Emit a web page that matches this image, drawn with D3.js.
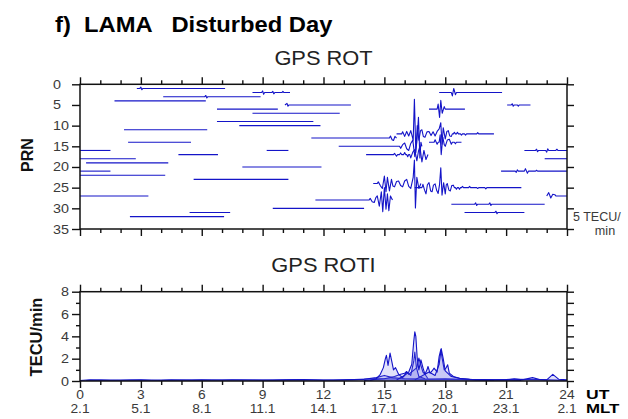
<!DOCTYPE html>
<html><head><meta charset="utf-8">
<script src="https://cdn.jsdelivr.net/npm/d3@7"></script>
<style>html,body{margin:0;padding:0;background:#fff;} svg{display:block;font-family:"Liberation Sans",Arial,sans-serif;}</style>
</head><body><svg id="c" width="628" height="419"></svg>
<script>
// ---------------- data ----------------
const utTicks = [0,3,6,9,12,15,18,21,24];
const utLabels = ["0","3","6","9","12","15","18","21","24"];
const mltLabels = ["2.1","5.1","8.1","11.1","14.1","17.1","20.1","23.1","2.1"];
const minorHours = [1,2,4,5,7,8,10,11,13,14,16,17,19,20,22,23];
const prnTicks = [0,5,10,15,20,25,30,35];
const rotiTicks = [0,2,4,6,8];
const rotiMinor = [1,3,5,7];

// satellite passes in GPS ROT panel
const trackPRN   = [1, 2, 2, 3, 4, 5, 5, 6, 6, 7, 9, 10, 11, 12, 13, 14, 14, 15, 16, 16, 16, 17, 17, 18, 18, 19, 20, 21, 21, 22, 23, 24, 25, 27, 27, 28, 29, 30, 31, 31, 32];
const trackStart = [2.8, 8.5, 17.7, 4.1, 1.7, 10.1, 21.05, 6.75, 17.2, 8.5, 6.75, 7.85, 2.17, 15.6, 11.4, 2.37, 17.2, 12.75, 0, 9.2, 21.9, 4.85, 14.1, 0, 22.9, 0.3, 8.0, 0, 20.75, 0, 5.6, 14.45, 16.5, 0, 23.0, 11.6, 18.3, 9.5, 5.4, 18.95, 2.46];
const trackEnd   = [7.15, 10.35, 20.8, 8.9, 6.2, 13.35, 22.2, 9.75, 18.97, 12.8, 11.5, 11.85, 6.27, 20.4, 15.6, 5.47, 18.8, 16.85, 1.5, 10.27, 24, 6.8, 17.15, 2.75, 24, 4.35, 11.9, 1.5, 24, 4.2, 10.27, 16.8, 21.75, 3.37, 24, 15.4, 22.9, 14.0, 7.4, 21.9, 7.1];

// ROT excursions: [PRN, UT hour, ROT (TECU/min)]
const rotEvents = [
  [1,3.0,0.3],[1,3.05,-0.3],
  [2,9.0,0.4],[2,9.05,-0.4],[2,9.5,0.3],[2,9.55,-0.3],[2,10.0,0.3],
  [2,18.35,-0.8],[2,18.42,1.0],[2,18.5,-0.5],
  [3,6.2,0.3],[3,6.25,-0.3],
  [5,10.2,0.4],[5,10.25,-0.3],[5,21.3,0.3],[5,21.35,-0.3],[5,21.6,-0.3],
  [6,17.65,1.2],[6,17.72,-2.0],[6,17.78,2.1],[6,17.85,-1.0],[6,17.95,0.6],
  [12,15.9,0.5],[12,16.0,-0.6],[12,16.1,0.6],[12,16.2,-0.5],[12,16.3,0.8],[12,16.42,-1.5],[12,16.48,8.4],[12,16.55,-4.5],[12,16.62,2.0],[12,16.7,-1.5],[12,16.78,0.8],[12,16.85,1.0],[12,16.92,-0.6],[12,17.0,-0.8],[12,17.1,0.5],[12,17.2,0.6],[12,17.3,-0.4],[12,17.4,0.5],[12,17.5,-0.5],[12,17.6,0.6],[12,17.7,1.2],[12,17.78,2.7],[12,17.84,-2.5],[12,17.9,1.5],[12,18.0,-1.2],[12,18.08,0.6],[12,18.15,0.8],[12,18.22,-0.5],[12,18.3,-0.6],[12,18.45,0.4],[12,18.6,0.4],[12,18.8,-0.3],[12,19.0,-0.3],[12,19.6,0.3],
  [13,15.3,0.5],[13,15.38,-0.4],[13,15.45,-0.6],[13,15.52,0.4],
  [14,17.5,0.6],[14,17.6,-0.5],[14,17.75,1.8],[14,17.8,-3.0],[14,17.88,1.2],[14,17.95,-0.6],[14,18.0,-1.0],[14,18.1,0.5],[14,18.2,0.7],[14,18.3,-0.5],[14,18.5,-0.4],
  [15,15.8,-0.5],[15,15.9,0.4],[15,16.0,0.8],[15,16.1,-0.6],[15,16.2,-1.0],[15,16.3,0.7],[15,16.4,1.5],[15,16.5,-2.5],[15,16.6,1.0],[15,16.68,7.0],[15,16.75,-2.8],[15,16.8,1.0],
  [16,22.5,0.3],[16,22.55,-0.3],[16,23.0,-0.4],[16,23.05,0.4],[16,23.5,0.3],
  [17,15.5,0.3],[17,15.6,-0.4],[17,15.8,0.4],[17,16.0,0.5],[17,16.15,-0.5],[17,16.3,-0.8],[17,16.4,0.6],[17,16.5,1.2],[17,16.6,-1.5],[17,16.68,0.8],[17,16.75,2.0],[17,16.85,-1.8],[17,16.95,1.0],[17,17.05,-1.2],
  [21,21.5,-0.3],[21,21.55,0.3],[21,21.95,0.6],[21,22.05,-0.5],[21,22.5,0.2],
  [24,14.7,0.4],[24,14.8,-0.5],[24,14.9,-1.2],[24,15.0,1.8],[24,15.08,-2.0],[24,15.15,1.5],[24,15.25,-1.8],[24,15.35,1.0],[24,15.42,-0.6],[24,15.5,-0.8],[24,15.6,0.5],[24,15.7,0.6],[24,15.8,-0.5],[24,15.9,-0.8],[24,16.0,0.6],[24,16.1,1.0],[24,16.2,-0.7],[24,16.3,-1.2],[24,16.42,1.5],[24,16.48,5.7],[24,16.53,-5.9],[24,16.6,1.5],[24,16.7,-1.2],
  [25,16.9,0.8],[25,16.98,-0.6],[25,17.05,-1.5],[25,17.12,0.7],[25,17.2,1.2],[25,17.28,-0.8],[25,17.35,-1.0],[25,17.42,0.6],[25,17.5,0.9],[25,17.58,-0.7],[25,17.65,-1.4],[25,17.72,0.8],[25,17.78,4.8],[25,17.84,-1.8],[25,17.92,1.2],[25,18.0,-1.5],[25,18.05,0.7],[25,18.1,1.0],[25,18.18,-0.6],[25,18.25,-0.8],[25,18.32,0.5],[25,18.4,0.6],[25,18.55,-0.4],[25,18.7,-0.4],[25,18.85,0.3],[25,19.2,0.3],[25,19.6,-0.2],[25,20.0,-0.3],
  [27,23.1,0.8],[27,23.2,-0.5],[27,23.3,0.4],[27,23.4,0.3],
  [28,14.3,0.4],[28,14.4,-0.4],[28,14.5,-0.6],[28,14.58,0.6],[28,14.65,1.0],[28,14.75,-1.5],[28,14.85,2.0],[28,14.92,-2.8],[28,15.0,3.0],[28,15.08,-2.2],[28,15.15,1.5],[28,15.22,-2.6],[28,15.3,1.0],
  [29,19.5,0.3],[29,19.55,-0.3],[29,20.2,0.3],[29,20.25,-0.3],
  [31,20.5,0.3],[31,20.55,-0.3]
];

// GPS ROTI series (UT hour / TECU per min)
const rotiHoursA = [15.6,15.8,16.0,16.2,16.35,16.45,16.5,16.55,16.62,16.7,16.8,16.9,17.0,17.2,17.5,17.7,17.8,17.9,18.0,18.3,18.8,19.5,20.4];
const rotiValuesA = [0.1,0.3,0.5,0.8,1.5,3.6,4.4,4.0,2.0,1.0,1.9,1.2,0.6,0.8,0.5,1.5,2.9,2.0,0.9,0.4,0.2,0.1,0.05];
const rotiHoursB = [14.3,14.6,14.8,14.95,15.05,15.1,15.18,15.28,15.35,15.45,15.55,15.7,15.9,16.1,16.3,16.45,16.5,16.58,16.7,17.0];
const rotiValuesB = [0.05,0.2,0.6,1.2,2.0,2.3,1.4,2.5,1.9,1.0,1.2,0.6,0.3,0.8,0.5,1.8,2.6,1.2,0.4,0.2];
const rotiHoursC = [16.5,16.8,17.0,17.1,17.15,17.25,17.35,17.45,17.6,17.7,17.78,17.85,17.95,18.05,18.12,18.2,18.4,18.7,19.2,20.0,21.0,21.75];
const rotiValuesC = [0.1,0.4,0.6,1.0,1.3,0.7,0.9,1.15,0.8,2.2,2.8,2.0,1.0,1.2,1.45,0.7,0.4,0.25,0.15,0.1,0.08,0.05];
const rotiHoursD = [14.0,15.0,15.5,15.8,16.0,16.1,16.2,16.4,16.6,16.7,16.8,16.9,17.0,17.15];
const rotiValuesD = [0.05,0.2,0.4,0.6,0.7,0.85,0.6,0.9,1.2,2.05,1.4,0.8,0.6,0.2];
const rotiHoursE = [0.3,1,2,3,4,5,6,7,8,9,10,11,12,13,14,14.6,15.0,15.4,16,17,18,19,20,21,21.4,21.8,22.3,22.7,23.0,23.3,23.6,24];
const rotiValuesE = [0.05,0.08,0.06,0.1,0.05,0.08,0.1,0.07,0.09,0.08,0.1,0.12,0.08,0.1,0.15,0.3,0.5,0.3,0.2,0.15,0.2,0.12,0.1,0.12,0.2,0.1,0.3,0.12,0.1,0.6,0.15,0.1];
const rotiHoursF = [0,0.5,1.5,2.5,3.5,4.5,5.5,6.5,7.5,8.5,9.5,10.5,11.5,12.5,13.5,14.5,19.5,20.5,21.5,22.5,23.5,24];
const rotiValuesF = [0.05,0.1,0.06,0.08,0.07,0.1,0.06,0.09,0.1,0.08,0.06,0.1,0.09,0.07,0.12,0.2,0.12,0.1,0.15,0.12,0.08,0.05];

// ---------------- drawing ----------------
const svg = d3.select("#c");
const X0 = 80, X1 = 567;
const x = d3.scaleLinear().domain([0,24]).range([X0,X1]);
const yRot = d3.scaleLinear().domain([0,35]).range([84.3,229]);
const yRoti = d3.scaleLinear().domain([0,8]).range([381,291.7]);
const BLUE = "#1414c8";
const LBL = "#3a3a3a";

function txt(x0, y0, s, o) {
  o = Object.assign({size:12, weight:"normal", anchor:"middle", fill:LBL, sx:1.15}, o||{});
  return svg.append("text")
    .attr("transform", `translate(${x0},${y0}) scale(${o.sx},1)`)
    .attr("text-anchor", o.anchor)
    .attr("font-size", o.size).attr("font-weight", o.weight)
    .attr("fill", o.fill).style("white-space","pre").text(s);
}

// titles
txt(55, 32, "f)  LAMA   Disturbed Day", {size:22, weight:"bold", anchor:"start", fill:"#000", sx:1.08});
txt((X0+X1)/2, 65, "GPS ROT", {size:21, fill:"#222", sx:1.04});
txt((X0+X1)/2, 272, "GPS ROTI", {size:21, fill:"#222", sx:1.04});

// ---- ROT panel tracks ----
const rotScale = 1; // 1 TECU/min = 1 PRN unit on the plot
const rotLine = d3.line().x(d => x(d[0])).y(d => d[1]);
const gRot = svg.append("g");
trackPRN.forEach((p, i) => {
  const s = trackStart[i], e = trackEnd[i];
  const ev = rotEvents.filter(r => r[0] === p && r[1] > s && r[1] < e).sort((a,b) => a[1]-b[1]);
  const knots = [[s, 0]].concat(ev.map(r => [r[1], r[2]])).concat([[e, 0]]);
  const pts = [];
  knots.forEach((k, j) => {
    if (j > 0) {
      const prev = knots[j-1];
      if (k[0] - prev[0] > 0.14) { // return to the track's baseline between separated excursions
        pts.push([prev[0] + 0.05, yRot(p)]);
        pts.push([k[0] - 0.05, yRot(p)]);
      }
    }
    pts.push([k[0], yRot(p - k[1]*rotScale)]);
  });
  gRot.append("path").attr("d", rotLine(pts)).attr("fill","none")
    .attr("stroke", BLUE).attr("stroke-width", 1.1).attr("stroke-linejoin","round");
});

// ---- ROTI panel ----
const rotiSeries = [
  [rotiHoursF, rotiValuesF],[rotiHoursE, rotiValuesE],[rotiHoursD, rotiValuesD],
  [rotiHoursB, rotiValuesB],[rotiHoursC, rotiValuesC],[rotiHoursA, rotiValuesA]
];
const rArea = d3.area().x(d => x(d[0])).y0(yRoti(0)).y1(d => yRoti(d[1]));
const rLine = d3.line().x(d => x(d[0])).y(d => yRoti(d[1]));
const gRoti = svg.append("g");
rotiSeries.forEach(([h, v]) => {
  const pts = h.map((t, i) => [t, v[i]]);
  gRoti.append("path").attr("d", rArea(pts)).attr("fill", "#6a6ae8").attr("fill-opacity", 0.2);
  gRoti.append("path").attr("d", rLine(pts)).attr("fill","none")
    .attr("stroke", BLUE).attr("stroke-width", 1.1).attr("stroke-linejoin","round");
});

// ---- axes ----
function frame(y0, y1) {
  svg.append("rect").attr("x", X0).attr("y", y0).attr("width", X1-X0).attr("height", y1-y0)
    .attr("fill","none").attr("stroke","#111").attr("stroke-width",1.5);
}
function xTicks(yTop, yBot) {
  const top = svg.append("g").attr("transform", `translate(0,${yTop})`);
  top.call(d3.axisTop(x).tickValues(utTicks).tickSize(7).tickFormat(""));
  top.call(g => g.append("g").call(d3.axisTop(x).tickValues(minorHours).tickSize(4).tickFormat("")));
  const bot = svg.append("g").attr("transform", `translate(0,${yBot})`);
  bot.call(d3.axisBottom(x).tickValues(utTicks).tickSize(7).tickFormat(""));
  bot.call(g => g.append("g").call(d3.axisBottom(x).tickValues(minorHours).tickSize(4).tickFormat("")));
  [top, bot].forEach(g => { g.selectAll(".domain").remove(); g.selectAll("line").attr("stroke","#111").attr("stroke-width",1.4); });
}
frame(yRot(0), yRot(35));
xTicks(yRot(0), yRot(35));
frame(yRoti(8), yRoti(0));
xTicks(yRoti(8), yRoti(0));

const yl = svg.append("g").attr("transform", `translate(${X0},0)`).call(d3.axisLeft(yRot).tickValues(prnTicks).tickSize(8).tickFormat(""));
const yr = svg.append("g").attr("transform", `translate(${X1},0)`).call(d3.axisRight(yRot).tickValues(prnTicks).tickSize(7).tickFormat(""));
const yl2 = svg.append("g").attr("transform", `translate(${X0},0)`).call(d3.axisLeft(yRoti).tickValues(rotiTicks).tickSize(8).tickFormat(""));
const yl2m = svg.append("g").attr("transform", `translate(${X0},0)`).call(d3.axisLeft(yRoti).tickValues(rotiMinor).tickSize(4).tickFormat(""));
const yr2 = svg.append("g").attr("transform", `translate(${X1},0)`).call(d3.axisRight(yRoti).tickValues(rotiTicks.concat(rotiMinor)).tickSize(7).tickFormat(""));
[yl, yr, yl2, yl2m, yr2].forEach(g => { g.selectAll(".domain").remove(); g.selectAll("line").attr("stroke","#111").attr("stroke-width",1.4); });

// tick labels
prnTicks.forEach(v => txt(53, yRot(v) + 4.5, String(v), {anchor:"start", size:12.5}));
rotiTicks.forEach(v => txt(69, yRoti(v) + 4.5, String(v), {anchor:"end", size:12.5}));
utTicks.forEach((v, i) => txt(x(v), 399, utLabels[i]));
utTicks.forEach((v, i) => txt(x(v), 412.5, mltLabels[i]));
txt(586, 398.5, "UT", {anchor:"start", weight:"bold", fill:"#000", size:13.5, sx:1.3});
txt(586, 412.5, "MLT", {anchor:"start", weight:"bold", fill:"#000", size:13, sx:1.3});

// axis titles
svg.append("text").attr("transform", `translate(33,155) rotate(-90)`).attr("text-anchor","middle")
  .attr("font-size",16).attr("font-weight","bold").attr("fill","#111").text("PRN");
svg.append("text").attr("transform", `translate(42,337) rotate(-90)`).attr("text-anchor","middle")
  .attr("font-size",16.5).attr("font-weight","bold").attr("fill","#111").text("TECU/min");

// ROT scale label
txt(573, 221, "5 TECU/", {anchor:"start", size:12.5, sx:1.0});
txt(605, 235, "min", {size:12, sx:1.05});
</script></body></html>
